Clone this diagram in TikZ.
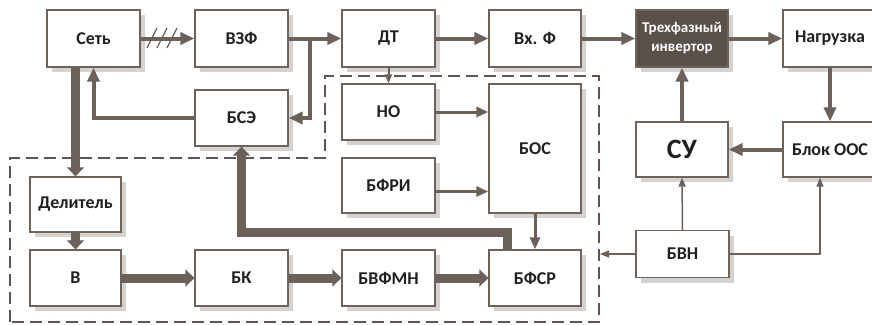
\documentclass[tikz,border=0pt]{standalone}
\usepackage{fontspec}
\setmainfont{Carlito}
\usetikzlibrary{arrows.meta,shadows}
\definecolor{ln}{HTML}{6B605A}
\definecolor{bd}{HTML}{6E645E}
\definecolor{shd}{HTML}{D6D2CF}
\definecolor{txt}{HTML}{231F20}
\definecolor{invf}{HTML}{5A504A}
\begin{document}
\begin{tikzpicture}[x=1pt,y=-1pt,
  box/.style={draw=bd, line width=1.3pt, fill=white, minimum width=93pt, minimum height=57pt,
    inner sep=0pt, text=txt, font=\bfseries\fontsize{18}{20}\selectfont,
    drop shadow={shadow xshift=5pt, shadow yshift=-5pt, fill=shd, opacity=1}},
  thk/.style={draw=ln, line width=4pt, -{Triangle[length=14pt,width=12pt]}},
  vthk/.style={draw=ln, line width=9pt, -{Triangle[length=9pt,width=17pt]}},
  med/.style={draw=ln, line width=3pt, -{Triangle[length=12pt,width=10pt]}},
  thn/.style={draw=ln, line width=1.5pt, -{Triangle[length=9pt,width=7pt]}},
  dsh/.style={draw=ln!90!black, line width=1.4pt, dash pattern=on 12pt off 6pt}]
\useasboundingbox (0,0) rectangle (872,324);
\fill[white] (0,0) rectangle (872,324);
% dashed region
\draw[dsh] (10,322) -- (10,158) -- (325,158) -- (325,76) -- (599,76) -- (599,322) -- cycle;
% boxes
\node[box] (set) at (93.5,38.5) {Сеть};
\node[box] (vzf) at (241.5,38.5) {ВЗФ};
\node[box, minimum height=56pt] (bse) at (241.5,118) {БСЭ};
\node[box] (dt) at (388.5,38.5) {ДТ};
\node[box, minimum width=92pt] (vxf) at (535,38.5) {Вх. Ф};
\node[box, minimum width=92pt, fill=invf, text=white, align=center,
  font=\bfseries\fontsize{15}{19}\selectfont] (inv) at (682,38.5) {Трехфазный\\инвертор};
\node[box, minimum width=94pt] (nagr) at (830,38.5) {Нагрузка};
\node[box, minimum height=56pt] (no) at (388.5,112) {НО};
\node[box, minimum width=92pt, minimum height=129pt] (bos) at (535,148.5) {БОС};
\node[box, minimum height=55pt] (bfri) at (388.5,185.5) {БФРИ};
\node[box, minimum width=92pt, minimum height=56pt] (bfsr) at (535,278) {БФСР};
\node[box, minimum height=56pt] (bvfmn) at (388.5,278) {БВФМН};
\node[box, minimum height=56pt] (bk) at (241.5,278) {БК};
\node[box, minimum width=91pt, minimum height=56pt] (v) at (75.5,278) {В};
\node[box, minimum width=91pt, minimum height=55pt] (del) at (75.5,204.5) {Делитель};
\node[box, minimum width=92pt, minimum height=55pt, font=\bfseries\fontsize{28}{30}\selectfont] (su) at (682,149.5) {СУ};
\node[box, minimum width=94pt, minimum height=55pt] (blok) at (830,149.5) {Блок ООС};
\node[box, minimum height=47pt] (bvn) at (682.5,254) {БВН};
% coordinates
\coordinate (br) at (310,38.5);
\coordinate (c1) at (507,232);
\coordinate (dR) at (600,254);
% connectors
\draw[thk] (set.east) -- (vzf.west);
\foreach \xx in {152,162,172} \draw[ln, line width=1.3pt] (\xx-5,48) -- (\xx+5,28);
\draw[thk] (vzf.east) -- (dt.west);
\draw[thk] (br) |- (bse.east);
\draw[thk] (bse.west) -| (set.south);
\draw[vthk] (del.north |- set.south) -- (del.north);
\draw[vthk] (del.south) -- (v.north);
\draw[vthk] (v.east) -- (bk.west);
\draw[vthk] (bk.east) -- (bvfmn.west);
\draw[vthk] (bvfmn.east) -- (bfsr.west);
\draw[vthk] (c1 |- bfsr.north) -- (c1) -| (bse.south);
\draw[thn, line width=2pt] (dt.south) -- (no.north);
\draw[med] (no.east) -- (no.east -| bos.west);
\draw[med] ([yshift=-6pt]bfri.east) -- ([yshift=-6pt]bfri.east -| bos.west);
\draw[med] (bos.south) -- (bfsr.north);
\draw[thk] (dt.east) -- (vxf.west);
\draw[thk] (vxf.east) -- (inv.west);
\draw[thk] (inv.east) -- (nagr.west);
\draw[thk] (nagr.south) -- (blok.north);
\draw[thk] (blok.west) -- (su.east);
\draw[thk] (su.north) -- (inv.south);
\draw[thn] (bvn.north) -- (su.south);
\draw[thn] (bvn.east) -| ([xshift=-10pt]blok.south);
\draw[thn] (bvn.west) -- (dR);
\end{tikzpicture}
\end{document}
